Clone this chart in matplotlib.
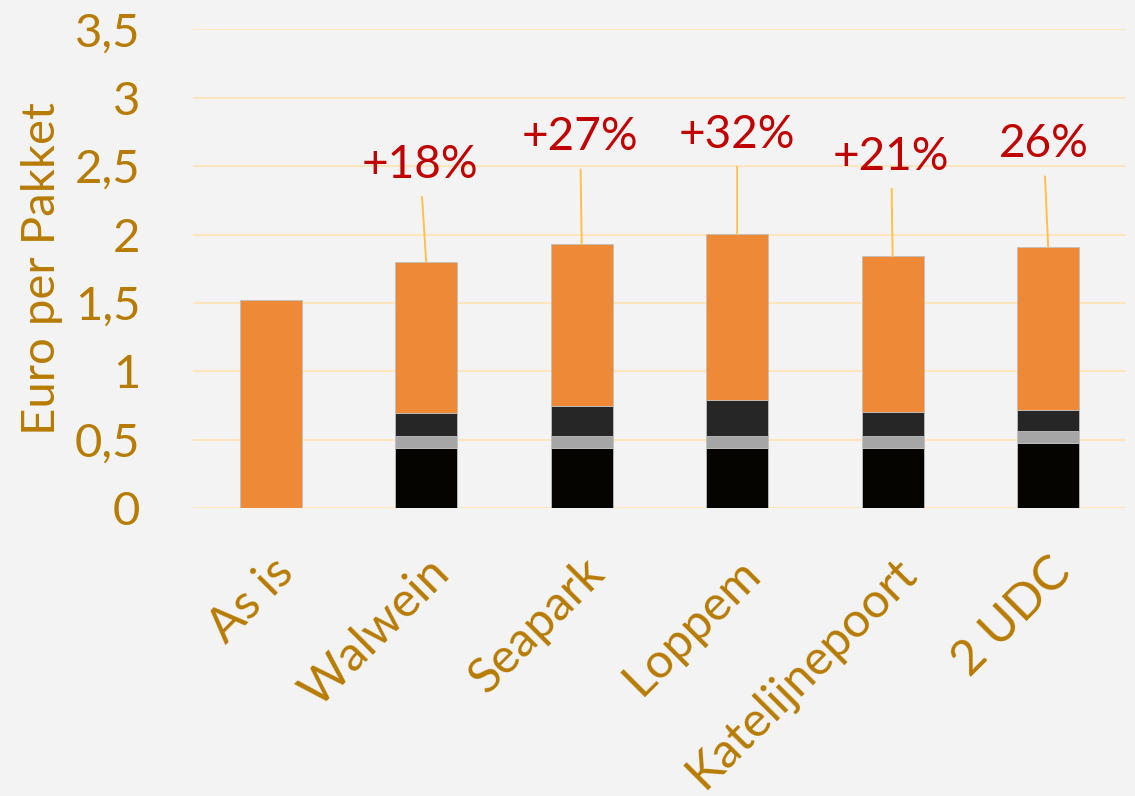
#!/usr/bin/env python3
"""Stacked cost per parcel per scenario."""

import matplotlib
matplotlib.use("Agg")
import matplotlib.pyplot as plt
import numpy as np

categories = ["As is", "Walwein", "Seapark", "Loppem", "Katelijnepoort", "2 UDC"]
# stacked segments, bottom to top
seg_black = [0.0, 0.44, 0.44, 0.44, 0.44, 0.475]
seg_grey = [0.0, 0.087, 0.087, 0.087, 0.087, 0.088]
seg_dark = [0.0, 0.168, 0.22, 0.265, 0.173, 0.155]
seg_orange = [1.52, 1.105, 1.183, 1.213, 1.14, 1.192]
pct_labels = [None, "+18%", "+27%", "+32%", "+21%", "26%"]
label_y = [None, 2.51, 2.71, 2.73, 2.57, 2.66]
label_dx = [0, -0.04, -0.01, 0.0, -0.01, -0.03]

TXT = "#B77B00"
plt.rcParams["font.family"] = ["Lato", "DejaVu Sans"]

fig = plt.figure(figsize=(11.35, 7.96), dpi=100, facecolor="#F3F3F3")
ax = fig.add_axes([0.170, 0.3618, 0.822, 0.6012])
ax.set_facecolor("#F3F3F3")

x = np.arange(len(categories))
w = 0.4
edge = dict(edgecolor="#BFBFBF", linewidth=0.6)
b1 = np.array(seg_black)
b2 = b1 + np.array(seg_grey)
b3 = b2 + np.array(seg_dark)
ax.bar(x, seg_black, w, color="#050400", zorder=3, **edge)
ax.bar(x, seg_grey, w, bottom=b1, color="#A6A6A6", zorder=3, **edge)
ax.bar(x, seg_dark, w, bottom=b2, color="#262626", zorder=3, **edge)
ax.bar(x, seg_orange, w, bottom=b3, color="#EE8937", zorder=3, **edge)

totals = b3 + np.array(seg_orange)
for i, lab in enumerate(pct_labels):
    if lab is None:
        continue
    ax.annotate(lab, xy=(x[i], totals[i]), xytext=(x[i] + label_dx[i], label_y[i]),
                ha="center", va="center", fontsize=33, color="#C00000",
                arrowprops=dict(arrowstyle="-", color="#FFC04D", lw=1.4,
                                shrinkA=6, shrinkB=0), zorder=4)

ax.set_xlim(-0.5, 5.5)
ax.set_ylim(0, 3.5)
ax.set_yticks(np.arange(0, 3.51, 0.5))
ax.set_yticklabels([f"{v:g}".replace(".", ",") for v in np.arange(0, 3.51, 0.5)])
ax.grid(axis="y", color="#FDE6BE", linewidth=1.5, zorder=0)
ax.set_xticks(x)
ax.set_xticklabels(categories, rotation=45, ha="right", rotation_mode="anchor")
ax.tick_params(axis="both", length=0, labelsize=34, colors=TXT)
ax.tick_params(axis="x", labelsize=35, pad=30)
ax.tick_params(axis="y", pad=38)
for s in ax.spines.values():
    s.set_visible(False)
ax.set_ylabel("Euro per Pakket", fontsize=34, color=TXT, labelpad=8)

fig.savefig("out.png", dpi=100, facecolor=fig.get_facecolor())
